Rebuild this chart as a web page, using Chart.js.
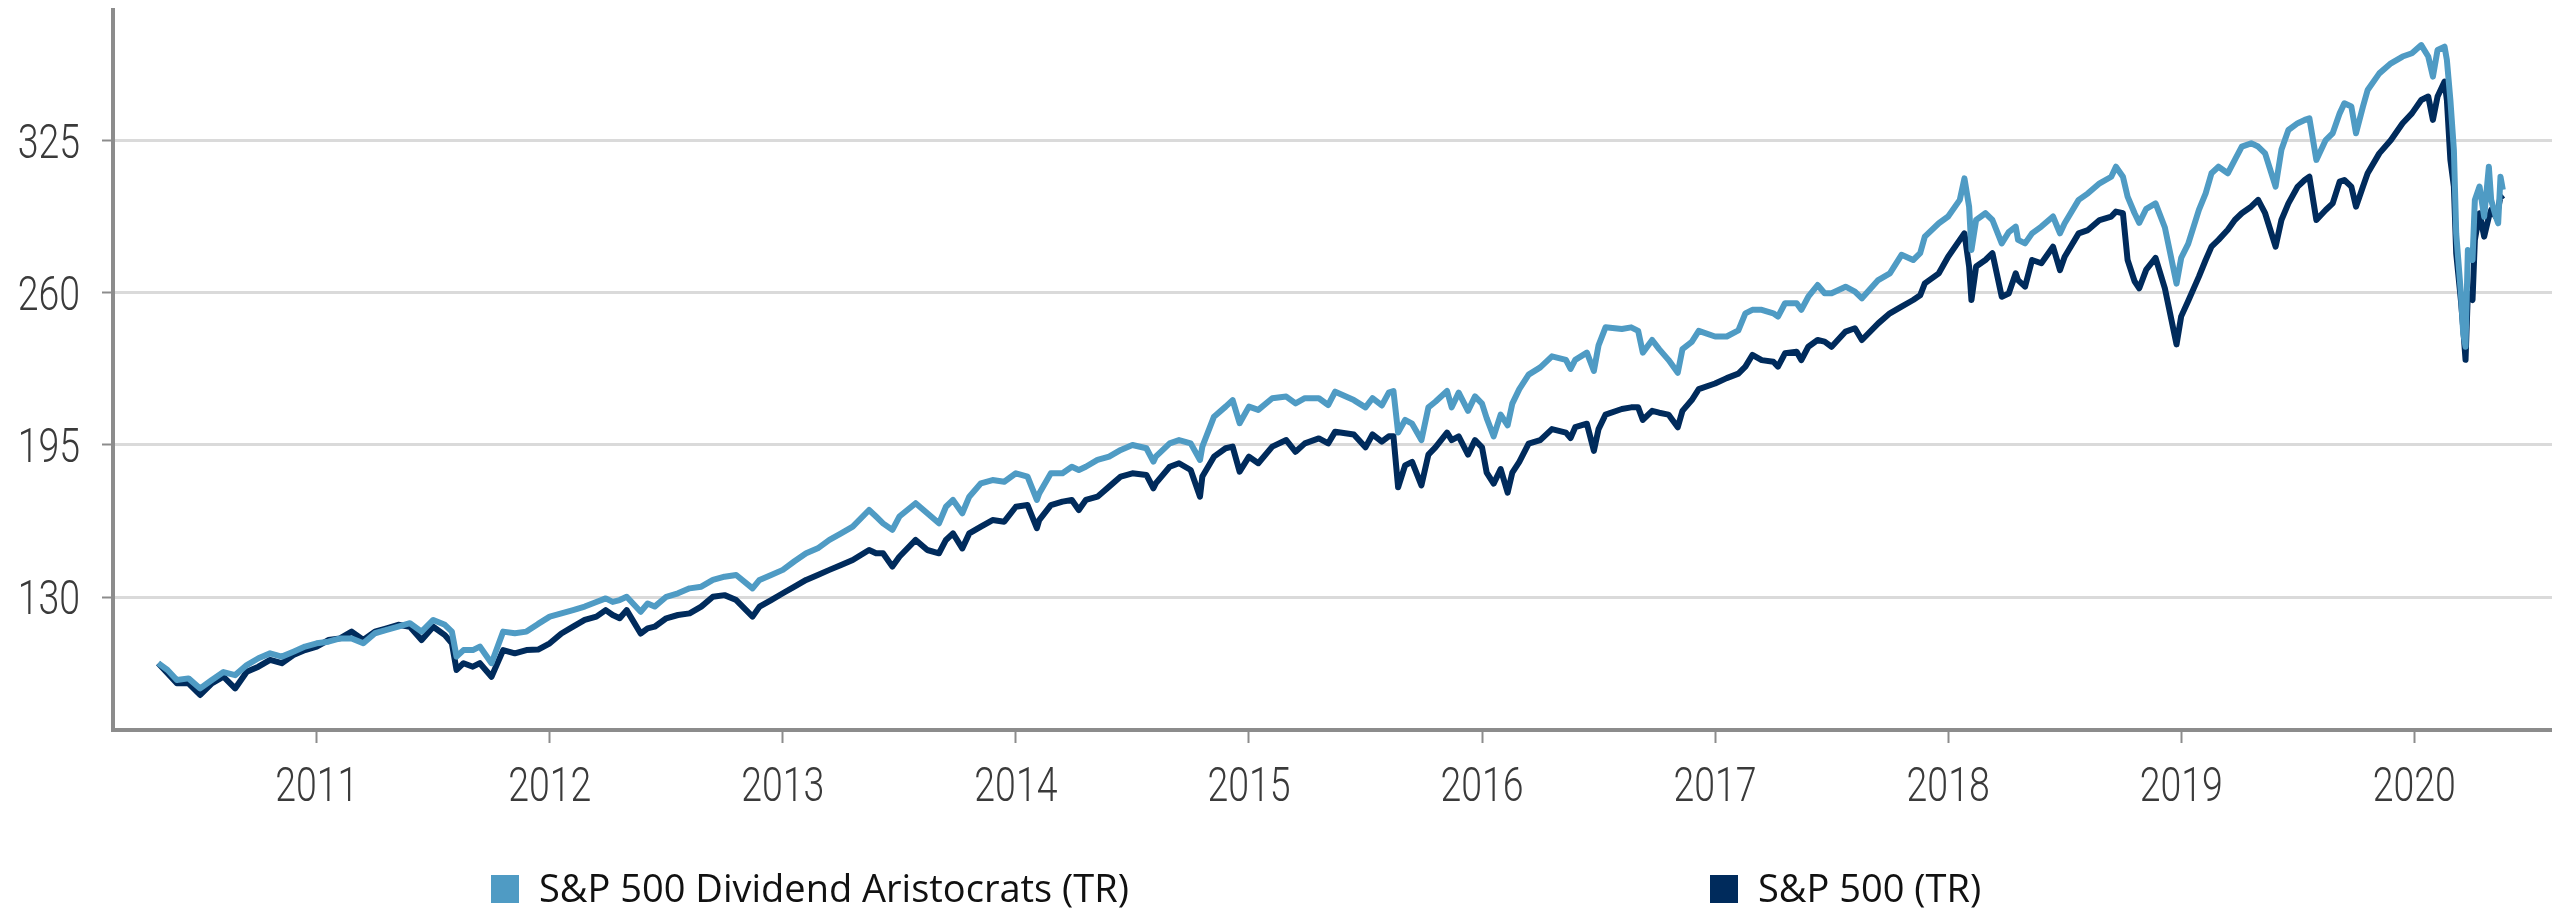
<!DOCTYPE html>
<html>
<head>
<meta charset="utf-8">
<title>S&amp;P 500 Dividend Aristocrats (TR) x S&amp;P 500 (TR)</title>
<script src="https://cdn.jsdelivr.net/npm/chart.js@4/dist/chart.umd.min.js"></script>
<style>
    html, body { margin: 0; padding: 0; background: #fff; }
    canvas { display: block; }
</style>
</head>
<body>
<canvas id="graficoIndices" width="2552" height="908"></canvas>
<script>

// datas em anos decimais
const datas = [
    2010.32, 2010.36, 2010.40, 2010.45, 2010.50, 2010.55, 2010.60, 2010.65, 2010.70, 2010.75,
    2010.80, 2010.85, 2010.90, 2010.95, 2011.00, 2011.05, 2011.10, 2011.15, 2011.20, 2011.25,
    2011.30, 2011.35, 2011.40, 2011.45, 2011.50, 2011.55, 2011.58, 2011.60, 2011.63, 2011.67,
    2011.70, 2011.75, 2011.80, 2011.85, 2011.90, 2011.95, 2012.00, 2012.05, 2012.10, 2012.15,
    2012.20, 2012.24, 2012.27, 2012.30, 2012.33, 2012.39, 2012.42, 2012.45, 2012.50, 2012.55,
    2012.60, 2012.65, 2012.70, 2012.75, 2012.80, 2012.87, 2012.90, 2012.95, 2013.00, 2013.05,
    2013.10, 2013.15, 2013.20, 2013.25, 2013.30, 2013.37, 2013.40, 2013.43, 2013.47, 2013.50,
    2013.57, 2013.62, 2013.67, 2013.70, 2013.73, 2013.77, 2013.80, 2013.85, 2013.90, 2013.95,
    2014.00, 2014.05, 2014.09, 2014.10, 2014.15, 2014.20, 2014.24, 2014.27, 2014.30, 2014.35,
    2014.40, 2014.45, 2014.50, 2014.56, 2014.59, 2014.60, 2014.66, 2014.70, 2014.75, 2014.79,
    2014.80, 2014.85, 2014.90, 2014.93, 2014.96, 2015.00, 2015.04, 2015.10, 2015.16, 2015.20,
    2015.24, 2015.30, 2015.34, 2015.37, 2015.45, 2015.50, 2015.53, 2015.57, 2015.60, 2015.62,
    2015.64, 2015.67, 2015.70, 2015.74, 2015.77, 2015.80, 2015.85, 2015.87, 2015.90, 2015.94,
    2015.97, 2016.00, 2016.02, 2016.05, 2016.08, 2016.11, 2016.13, 2016.16, 2016.20, 2016.25,
    2016.30, 2016.36, 2016.38, 2016.40, 2016.45, 2016.48, 2016.50, 2016.53, 2016.60, 2016.64,
    2016.67, 2016.69, 2016.73, 2016.76, 2016.80, 2016.84, 2016.86, 2016.90, 2016.93, 2017.00,
    2017.05, 2017.10, 2017.13, 2017.16, 2017.20, 2017.25, 2017.27, 2017.30, 2017.35, 2017.37,
    2017.40, 2017.44, 2017.47, 2017.50, 2017.56, 2017.60, 2017.63, 2017.70, 2017.75, 2017.80,
    2017.85, 2017.88, 2017.90, 2017.96, 2018.00, 2018.05, 2018.07, 2018.09, 2018.10, 2018.12,
    2018.16, 2018.19, 2018.23, 2018.26, 2018.29, 2018.30, 2018.33, 2018.36, 2018.40, 2018.45,
    2018.48, 2018.50, 2018.56, 2018.60, 2018.65, 2018.70, 2018.72, 2018.75, 2018.77, 2018.80,
    2018.82, 2018.85, 2018.89, 2018.93, 2018.98, 2019.00, 2019.03, 2019.076, 2019.105, 2019.13,
    2019.16, 2019.20, 2019.23, 2019.26, 2019.30, 2019.33, 2019.36, 2019.405, 2019.43, 2019.46,
    2019.50, 2019.53, 2019.55, 2019.58, 2019.62, 2019.65, 2019.68, 2019.70, 2019.73, 2019.75,
    2019.78, 2019.80, 2019.85, 2019.90, 2019.95, 2019.99, 2020.03, 2020.06, 2020.08, 2020.10,
    2020.13, 2020.14, 2020.155, 2020.17, 2020.18, 2020.20, 2020.21, 2020.22, 2020.23, 2020.25,
    2020.26, 2020.28, 2020.30, 2020.32, 2020.33, 2020.35, 2020.36, 2020.37, 2020.38
];

const aristocrats = [
    101.7, 98.8, 94.5, 95.2, 90.9, 94.5, 97.9, 96.6, 100.9, 103.8,
    105.9, 104.5, 106.6, 108.8, 110.2, 110.9, 112.3, 112.3, 110.2, 114.5,
    115.9, 117.3, 118.8, 115.2, 120.2, 118.1, 115.2, 104.5, 107.3, 107.3,
    108.8, 101.7, 115.2, 114.5, 115.2, 118.5, 121.6, 123.0, 124.4, 125.9,
    127.9, 129.4, 127.9, 128.7, 130.1, 123.7, 127.2, 125.9, 130.1, 131.6,
    133.7, 134.4, 137.3, 138.7, 139.4, 133.7, 137.3, 139.4, 141.6, 145.3,
    148.7, 150.8, 154.4, 157.2, 160.1, 167.2, 164.4, 161.5, 158.7, 164.4,
    170.1, 165.8, 161.5, 168.6, 171.5, 165.8, 172.9, 178.6, 180.0, 179.3,
    182.9, 181.5, 171.5, 174.3, 182.9, 182.9, 185.7, 184.3, 185.7, 188.6,
    190.0, 192.9, 195.0, 193.6, 187.9, 190.0, 195.7, 197.1, 195.7, 188.6,
    194.3, 207.1, 211.4, 214.2, 204.3, 211.4, 210.0, 215.0, 215.7, 212.8,
    215.0, 215.0, 212.1, 217.8, 214.2, 211.1, 215.0, 211.9, 217.4, 218.1,
    200.3, 205.7, 204.1, 197.1, 211.1, 213.5, 218.1, 211.1, 217.4, 209.6,
    215.8, 212.7, 206.5, 198.7, 208.0, 203.4, 212.7, 218.9, 225.1, 228.2,
    232.9, 231.4, 227.5, 231.4, 234.5, 226.7, 237.6, 245.3, 244.6, 245.3,
    243.8, 234.5, 239.9, 236.0, 231.4, 225.9, 236.0, 239.1, 243.8, 241.4,
    241.4, 244.0, 251.3, 252.8, 252.8, 251.3, 249.9, 255.6, 255.6, 252.8,
    258.4, 263.4, 259.9, 259.9, 262.7, 260.6, 257.7, 265.5, 268.4, 276.3,
    274.1, 277.0, 284.1, 289.8, 292.7, 299.8, 309.0, 296.9, 278.4, 291.2,
    294.1, 291.2, 281.2, 286.0, 288.4, 282.7, 281.2, 285.5, 288.4, 292.7,
    285.5, 289.8, 299.8, 302.6, 306.9, 309.7, 314.0, 309.7, 301.2, 294.1,
    290.0, 296.0, 298.3, 288.0, 264.0, 275.0, 281.0, 295.5, 302.6, 311.2,
    314.0, 311.2, 316.9, 322.6, 324.0, 322.6, 319.7, 305.5, 321.2, 329.7,
    332.6, 334.0, 334.7, 316.9, 325.4, 328.3, 336.8, 341.1, 339.7, 328.3,
    339.7, 346.8, 353.9, 358.2, 361.1, 362.5, 366.0, 361.1, 352.5, 363.9,
    365.3, 359.6, 342.5, 321.2, 285.5, 259.9, 242.7, 237.0, 278.4, 274.1,
    299.8, 305.5, 292.6, 314.0, 299.8, 292.6, 289.8, 309.7, 304.1
];

const sp500 = [
    101.7, 97.4, 93.1, 93.1, 88.1, 93.1, 95.9, 90.9, 98.0, 100.2,
    103.1, 101.7, 105.2, 107.3, 108.8, 111.6, 112.3, 115.2, 111.6, 115.2,
    116.6, 118.1, 117.3, 111.6, 117.3, 113.7, 110.2, 98.8, 101.7, 100.2,
    101.7, 95.9, 107.3, 105.9, 107.3, 107.5, 110.2, 114.4, 117.3, 120.2,
    121.6, 124.4, 122.3, 120.9, 124.4, 114.4, 116.6, 117.3, 120.9, 122.3,
    123.0, 125.9, 130.1, 130.8, 128.7, 121.6, 125.9, 128.7, 131.6, 134.4,
    137.3, 139.4, 141.6, 143.7, 145.8, 150.1, 148.7, 148.7, 143.0, 147.2,
    154.4, 150.1, 148.7, 154.4, 157.2, 150.8, 157.2, 160.1, 162.9, 162.2,
    168.6, 169.3, 159.4, 162.9, 169.3, 170.8, 171.5, 167.2, 171.5, 172.9,
    177.2, 181.5, 182.9, 182.2, 176.5, 178.6, 185.7, 187.2, 184.3, 172.9,
    181.5, 190.0, 193.6, 194.3, 183.6, 190.0, 187.2, 194.3, 197.1, 192.1,
    195.7, 197.8, 195.7, 200.7, 199.5, 194.0, 199.5, 196.4, 198.7, 198.7,
    176.9, 186.3, 187.8, 177.7, 190.9, 194.0, 200.3, 197.1, 198.7, 190.9,
    197.1, 194.0, 183.2, 178.5, 184.7, 174.6, 183.2, 187.8, 195.6, 197.1,
    201.8, 200.3, 198.0, 202.6, 204.1, 192.5, 201.8, 208.0, 210.4, 211.1,
    211.1, 205.7, 209.6, 208.8, 208.0, 202.6, 209.6, 214.2, 218.9, 221.3,
    223.6, 225.5, 228.5, 233.5, 231.3, 230.6, 228.5, 234.2, 234.9, 231.3,
    237.0, 239.9, 239.2, 237.0, 243.5, 244.9, 239.9, 247.0, 251.3, 254.2,
    257.0, 259.0, 264.1, 268.4, 275.5, 282.7, 285.5, 271.3, 257.0, 271.3,
    274.1, 277.0, 258.4, 259.8, 268.4, 265.5, 262.7, 274.1, 272.7, 279.8,
    269.8, 275.5, 285.5, 286.9, 291.2, 292.7, 294.8, 294.1, 274.1, 265.0,
    262.0, 270.0, 275.0, 262.0, 238.0, 250.0, 256.6, 267.0, 274.1, 279.8,
    282.7, 287.0, 291.2, 294.1, 296.9, 299.8, 294.1, 279.8, 291.2, 298.3,
    305.5, 308.3, 309.7, 291.2, 295.5, 298.3, 307.6, 308.3, 305.5, 296.9,
    305.5, 311.2, 319.7, 325.4, 332.6, 336.8, 342.5, 344.0, 334.0, 344.0,
    350.4, 342.5, 316.9, 305.5, 276.9, 257.0, 245.0, 231.4, 259.9, 257.0,
    282.7, 294.1, 284.1, 292.6, 295.5, 292.6, 296.0, 301.2, 300.0
];

const anos = [2011, 2012, 2013, 2014, 2015, 2016, 2017, 2018, 2019, 2020];
const valoresEixo = [130, 195, 260, 325];
const nomesSeries = ['S&P 500 Dividend Aristocrats (TR)', 'S&P 500 (TR)'];

const corClara = '#4f9bc4';
const corEscura = '#002b5c';
const corEixo = '#8c8c8c';


function montaPontos(valores) {
    return datas.map((d, i) => ({ x: d, y: valores[i] }));
}


// rotulos dos eixos e legenda desenhados a mao: a fonte do original e bem estreita
const textoEixos = {
    id: 'textoEixos',
    afterDraw(chart) {
        const ctx = chart.ctx;
        const area = chart.chartArea;
        const eixoX = chart.scales.x;
        const eixoY = chart.scales.y;

        ctx.save();
        ctx.fillStyle = '#3a3a3a';
        ctx.font = '300 48px Roboto, "Liberation Sans", sans-serif';
        ctx.textBaseline = 'alphabetic';

        ctx.textAlign = 'right';
        eixoY.ticks.forEach((tick) => {
            ctx.save();
            ctx.translate(area.left - 33, eixoY.getPixelForValue(tick.value) + 17);
            ctx.scale(0.78, 1);
            ctx.fillText(String(tick.value), 0, 0);
            ctx.restore();
        });

        ctx.textAlign = 'center';
        eixoX.ticks.forEach((tick) => {
            ctx.save();
            ctx.translate(eixoX.getPixelForValue(tick.value), area.bottom + 71);
            ctx.scale(0.78, 1);
            ctx.fillText(String(tick.value), 0, 0);
            ctx.restore();
        });

        // legenda em duas colunas, embaixo
        const inicioLegenda = [491, 1710];
        ctx.font = '38px "Open Sans", "Liberation Sans", sans-serif';
        ctx.textAlign = 'left';
        chart.data.datasets.forEach((dataset, i) => {
            const x = inicioLegenda[i];
            ctx.fillStyle = dataset.borderColor;
            ctx.fillRect(x, 875, 28, 28);
            ctx.fillStyle = '#111111';
            ctx.fillText(dataset.label, x + 48, 902);
        });

        ctx.restore();
    }
};


const graficoIndices = new Chart(document.getElementById('graficoIndices'), {
    type: 'line',
    data: {
        datasets: [{
            label: nomesSeries[0],
            data: montaPontos(aristocrats),
            borderColor: corClara,
            backgroundColor: corClara,
            borderWidth: 6,
            pointRadius: 0,
            tension: 0,
            borderJoinStyle: 'round'
        }, {
            label: nomesSeries[1],
            data: montaPontos(sp500),
            borderColor: corEscura,
            backgroundColor: corEscura,
            borderWidth: 6,
            pointRadius: 0,
            tension: 0,
            borderJoinStyle: 'round'
        }]
    },
    options: {
        responsive: false,
        animation: false,
        events: [],
        layout: {
            padding: { left: 102, right: 0, top: 10, bottom: 165 }
        },
        plugins: {
            legend: { display: false },
            tooltip: { enabled: false }
        },
        scales: {
            x: {
                type: 'linear',
                min: 2010.126,
                max: 2020.591,
                afterBuildTicks: (eixo) => {
                    eixo.ticks = anos.map(v => ({ value: v }));
                },
                ticks: { display: false },
                grid: {
                    drawOnChartArea: false,
                    drawTicks: true,
                    tickLength: 13,
                    tickColor: corEixo,
                    tickWidth: 2
                },
                border: { display: true, color: corEixo, width: 4 }
            },
            y: {
                type: 'linear',
                min: 73.13,
                max: 381,
                afterBuildTicks: (eixo) => {
                    eixo.ticks = valoresEixo.map(v => ({ value: v }));
                },
                ticks: { display: false },
                grid: {
                    color: '#dadada',
                    lineWidth: 3,
                    drawTicks: true,
                    tickLength: 11,
                    tickColor: corEixo,
                    tickWidth: 2
                },
                border: { display: true, color: corEixo, width: 4 }
            }
        }
    },
    plugins: [textoEixos]
});

</script>
</body>
</html>
